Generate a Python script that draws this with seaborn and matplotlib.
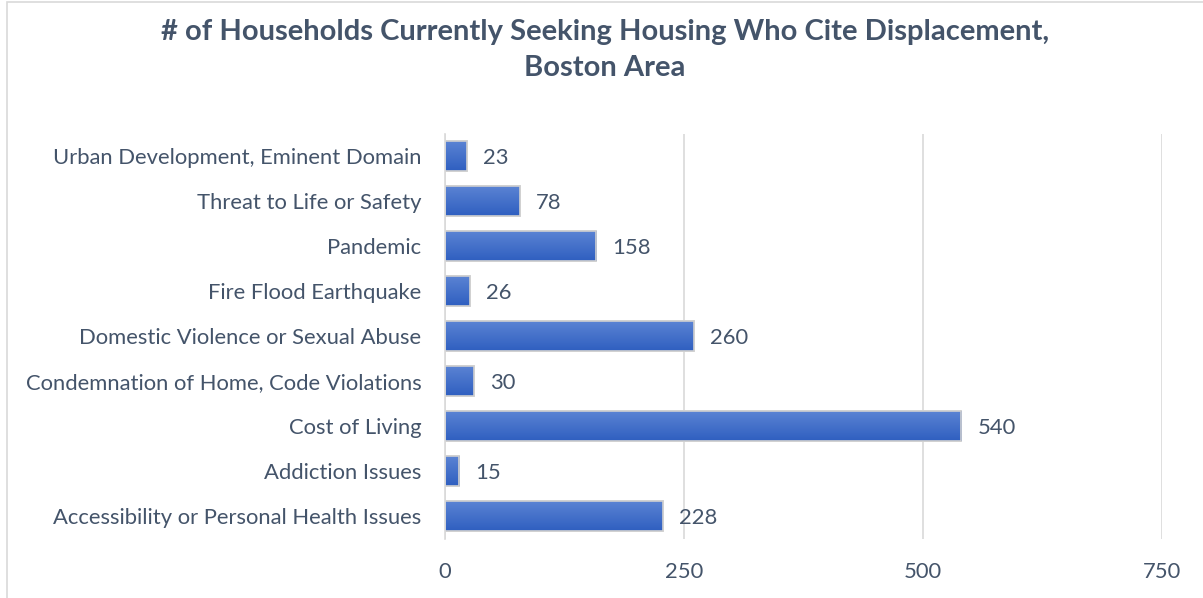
import matplotlib
matplotlib.use("Agg")
import matplotlib.pyplot as plt
import seaborn as sns
import pandas as pd
import numpy as np
from matplotlib.patches import Rectangle
from matplotlib.colors import LinearSegmentedColormap

categories = [
    "Urban Development, Eminent Domain",
    "Threat to Life or Safety",
    "Pandemic",
    "Fire Flood Earthquake",
    "Domestic Violence or Sexual Abuse",
    "Condemnation of Home, Code Violations",
    "Cost of Living",
    "Addiction Issues",
    "Accessibility or Personal Health Issues",
]
values = [23, 78, 158, 26, 260, 30, 540, 15, 228]
xticks = [0, 250, 500, 750]
title = "# of Households Currently Seeking Housing Who Cite Displacement,\nBoston Area"

df = pd.DataFrame({"category": categories, "value": values})

sns.set_theme(style="white")
plt.rcParams["font.family"] = ["Lato", "DejaVu Sans"]
text_color = "#44546A"

fig = plt.figure(figsize=(12.03, 5.98), dpi=100)
ax = fig.add_axes([445/1203, 1-538.5/598, (1162-445)/1203, (538.5-133.5)/598])

sns.barplot(data=df, x="value", y="category", orient="h", color="#4472C4",
            width=0.67, edgecolor="#D0D0D0", linewidth=1.2, ax=ax, saturation=1)

ax.set_xlim(0, 750)
ax.set_ylim(len(categories) - 0.5, -0.5)

# vertical gradient fill for each bar
cmap = LinearSegmentedColormap.from_list("g", ["#5C84D4", "#2F5FC0"])
grad = np.linspace(0, 1, 64).reshape(-1, 1)
for p in list(ax.patches):
    x0, y0 = p.get_x(), p.get_y()
    w, h = p.get_width(), p.get_height()
    im = ax.imshow(grad, cmap=cmap, aspect="auto", extent=(x0, x0 + w, y0 + h, y0),
                   origin="upper", zorder=p.get_zorder() + 0.1, interpolation="bilinear")
    im.set_clip_path(p)
    edge = Rectangle((x0, y0), w, h, fill=False, edgecolor="#D0D0D0", linewidth=1.2,
                     zorder=p.get_zorder() + 0.2)
    ax.add_patch(edge)
ax.set_xlim(0, 750)
ax.set_ylim(len(categories) - 0.5, -0.5)
ax.set_aspect("auto")

ax.set_xticks(xticks)
ax.set_xticklabels([str(t) for t in xticks])
ax.set_xlabel("")
ax.set_ylabel("")
ax.grid(axis="x", color="#D9D9D9", linewidth=1.2)
ax.set_axisbelow(True)
for s in ["top", "right", "bottom"]:
    ax.spines[s].set_visible(False)
ax.spines["left"].set_color("#D9D9D9")
ax.spines["left"].set_linewidth(1.2)
ax.tick_params(axis="both", length=0, labelsize=15.8, colors=text_color)
ax.tick_params(axis="y", pad=17)
ax.tick_params(axis="x", pad=17)

for i, v in enumerate(values):
    ax.text(v + 17, i + 0.04, str(v), va="center", ha="left", fontsize=15.8, color=text_color)

fig.text(0.503, 1-50/598, title, ha="center", va="center", fontsize=21,
         fontweight="bold", color=text_color, linespacing=1.52)

fig.patches.append(Rectangle((7/1203, -0.01), 1.0, 1-2/598+0.01, transform=fig.transFigure,
                             fill=False, edgecolor="#D9D9D9", linewidth=1.2))

fig.savefig("out.png", dpi=100)
